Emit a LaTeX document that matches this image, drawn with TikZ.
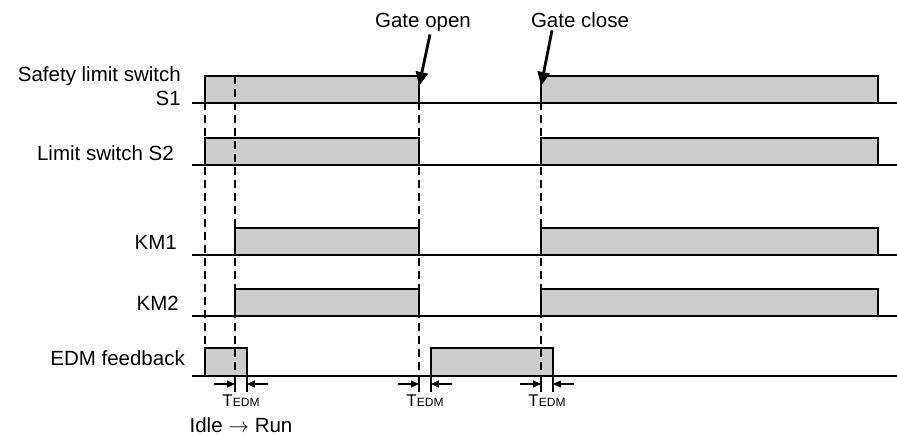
\documentclass[tikz,border=0pt]{standalone}
\usepackage{fontspec}
\setmainfont{Liberation Sans}
\usetikzlibrary{arrows.meta,positioning}

\begin{document}
\begin{tikzpicture}[x=1pt,y=-1pt,
    font=\fontsize{20.5}{24}\selectfont,
    axis/.style={line width=1.3pt},
    pulse/.style={draw,fill=black!20,line width=1.3pt},
    guide/.style={dash pattern=on 8pt off 5pt,line width=1.3pt},
    tick/.style={line width=1.3pt},
    gap/.style={-{Triangle[length=8pt,width=7pt]},line width=1.2pt},
    event/.style={-{Triangle[length=14pt,width=12pt]},line width=2.8pt},
    lbl/.style={anchor=east,inner sep=0pt},
    tedm/.style={inner sep=0pt}]
  \useasboundingbox (0,0) rectangle (897,436);
  % signal names
  \node[lbl,align=right] (s1) at (181,86) {Safety limit switch\\S1};
  \node[lbl] (s2) at (174,153) {Limit switch S2};
  \node[lbl] (km1) at (177,242) {KM1};
  \node[lbl] (km2) at (179,303) {KM2};
  \node[lbl] (edm) at (185,358) {EDM feedback};
  % traces
  \foreach \y/\s in {103/205,165/205,255/235,316/235} {
    \draw[axis] (192,\y) -- (897,\y);
    \filldraw[pulse] (\s,\y) rectangle (419,\y-27);
    \filldraw[pulse] (541,\y) rectangle (878,\y-27);
  }
  \draw[axis] (192,376) -- (897,376);
  \filldraw[pulse] (205,376) rectangle (247,348);
  \filldraw[pulse] (431,376) rectangle (553,348);
  % timing guides
  \foreach \x in {205,235,419,541}
    \draw[guide] (\x,76) -- (\x,376);
  \foreach \x/\w [count=\i] in {235/247,419/431,541/553} {
    \draw[tick] (\x,376) -- (\x,392);
    \draw[tick] (\w,376) -- (\w,392);
    \draw[gap] (\x-21,384) -- (\x,384);
    \draw[gap] (\w+21,384) -- (\w,384);
    \node[tedm] (t\i) at (\x+6,401)
      {{\fontsize{17}{20}\selectfont T}{\fontsize{12}{14}\selectfont EDM}};
  }
  \node[inner sep=0pt] (idle) at (241,425) {Idle $\rightarrow$ Run};
  % gate events
  \node[anchor=base,inner sep=2pt] (open) at (423,28) {Gate open};
  \node[anchor=base,inner sep=2pt] (close) at (580,28) {Gate close};
  \coordinate (opentip) at (419,86);
  \coordinate (closetip) at (541,86);
  \draw[event] ([xshift=7pt]open.south) -- (opentip);
  \draw[event] ([xshift=-28pt]close.south) -- (closetip);
\end{tikzpicture}
\end{document}
